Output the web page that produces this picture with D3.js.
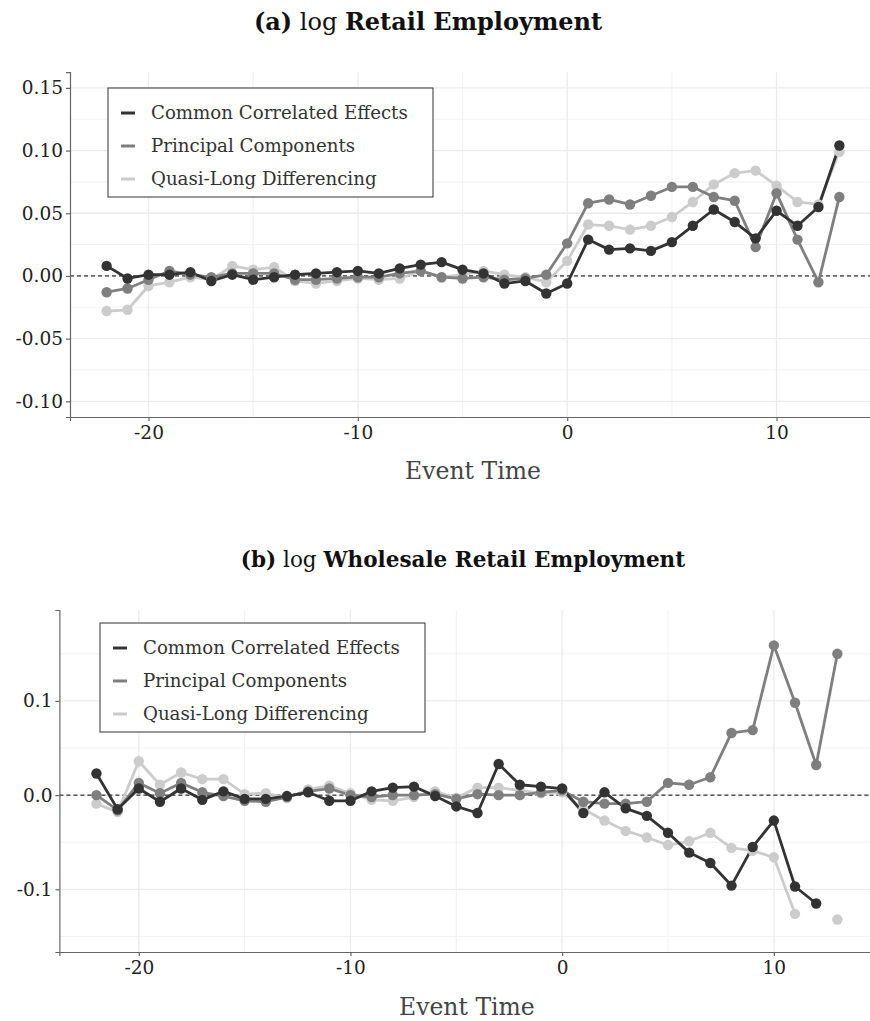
<!DOCTYPE html>
<html>
<head>
<meta charset="utf-8">
<script src="https://cdn.jsdelivr.net/npm/d3@7"></script>
<style>
  html, body { margin: 0; padding: 0; background: #ffffff; }
  svg { display: block; }
  text { font-family: "DejaVu Serif", serif; }
</style>
</head>
<body>
<svg id="chart" width="870" height="1021"></svg>
<script>
// Event-time grid shared by both panels
const eventTime = [-22,-21,-20,-19,-18,-17,-16,-15,-14,-13,-12,-11,-10,-9,-8,-7,-6,-5,-4,-3,-2,-1,0,1,2,3,4,5,6,7,8,9,10,11,12,13];

const seriesNames = ["Common Correlated Effects", "Principal Components", "Quasi-Long Differencing"];
const seriesColors = ["#333333", "#7f7f7f", "#cccccc"];

// (a) log Retail Employment
const retailCCE = [0.008,-0.002,0.001,0.001,0.003,-0.004,0.001,-0.003,-0.001,0.001,0.002,0.003,0.004,0.002,0.006,0.009,0.011,0.005,0.002,-0.006,-0.004,-0.014,-0.006,0.029,0.021,0.022,0.020,0.027,0.040,0.053,0.043,0.030,0.052,0.040,0.055,0.104];
const retailPC  = [-0.013,-0.010,-0.003,0.004,0.001,-0.001,0.002,0.002,0.002,-0.003,-0.003,-0.002,-0.001,-0.001,0.002,0.004,-0.001,-0.002,-0.001,-0.003,-0.002,0.001,0.026,0.058,0.061,0.057,0.064,0.071,0.071,0.063,0.060,0.023,0.066,0.029,-0.005,0.063];
const retailQLD = [-0.028,-0.027,-0.008,-0.005,-0.001,-0.003,0.008,0.005,0.007,-0.004,-0.006,-0.004,-0.002,-0.003,-0.002,0.004,-0.001,0.001,0.004,0.001,-0.001,-0.005,0.012,0.041,0.040,0.037,0.040,0.047,0.059,0.073,0.082,0.084,0.072,0.059,0.057,0.099];

// (b) log Wholesale Retail Employment (null = not estimated)
const wholesaleCCE = [0.023,-0.015,0.007,-0.007,0.007,-0.005,0.004,-0.004,-0.004,-0.001,0.003,-0.006,-0.006,0.004,0.008,0.009,-0.001,-0.012,-0.019,0.033,0.011,0.009,0.007,-0.019,0.003,-0.014,-0.022,-0.040,-0.061,-0.072,-0.096,-0.055,-0.027,-0.097,-0.115,null];
const wholesalePC  = [0.000,-0.016,0.013,0.002,0.013,0.003,-0.001,-0.006,-0.007,-0.002,0.004,0.007,0.000,-0.002,0.000,0.000,0.001,-0.004,0.001,0.000,0.000,0.003,0.005,-0.007,-0.009,-0.009,-0.007,0.013,0.011,0.019,0.066,0.069,0.159,0.098,0.032,0.150];
const wholesaleQLD = [-0.009,-0.018,0.036,0.011,0.024,0.017,0.017,0.001,0.002,-0.003,0.006,0.010,0.002,-0.005,-0.006,-0.002,0.004,-0.003,0.008,0.008,0.005,0.002,0.003,-0.015,-0.027,-0.038,-0.045,-0.053,-0.049,-0.040,-0.056,-0.059,-0.066,-0.126,null,-0.132];

// Axis breaks and labels
const xTicks = [-20, -10, 0, 10];
const xMinor = [-15, -5, 5];
const retailYTicks = [-0.10, -0.05, 0.00, 0.05, 0.10, 0.15];
const retailYMinor = [-0.075, -0.025, 0.025, 0.075, 0.125];
const wholesaleYTicks = [-0.1, 0.0, 0.1];
const wholesaleYMinor = [-0.15, -0.05, 0.05, 0.15];

const svg = d3.select("#chart");

function drawPanel(p) {
  const g = svg.append("g");
  const x = d3.scaleLinear().domain(p.xDomain).range(p.xRange);
  const y = d3.scaleLinear().domain(p.yDomain).range(p.yRange);
  const [x0, x1] = p.xRange;
  const [y0, y1] = p.yRange; // y0 bottom, y1 top

  // Title: bold panel letter and variable, regular "log"
  const title = g.append("text")
    .attr("x", p.titleX).attr("y", p.titleY)
    .attr("text-anchor", "middle")
    .attr("font-size", p.titleSize).attr("fill", "#111");
  title.append("tspan").attr("font-weight", "bold").text(p.titleParts[0]);
  title.append("tspan").text(" log ");
  title.append("tspan").attr("font-weight", "bold").text(p.titleParts[1]);

  // Grid lines
  const grid = g.append("g");
  grid.selectAll(".ymin").data(p.yMinor).join("line")
    .attr("x1", x0).attr("x2", x1).attr("y1", d => y(d)).attr("y2", d => y(d))
    .attr("stroke", "#f2f2f2").attr("stroke-width", 1.1);
  grid.selectAll(".xmin").data(xMinor).join("line")
    .attr("y1", y0).attr("y2", y1).attr("x1", d => x(d)).attr("x2", d => x(d))
    .attr("stroke", "#f2f2f2").attr("stroke-width", 1.1);
  grid.selectAll(".ymaj").data(p.yTicks).join("line")
    .attr("x1", x0).attr("x2", x1).attr("y1", d => y(d)).attr("y2", d => y(d))
    .attr("stroke", "#ebebeb").attr("stroke-width", 1.3);
  grid.selectAll(".xmaj").data(xTicks).join("line")
    .attr("y1", y0).attr("y2", y1).attr("x1", d => x(d)).attr("x2", d => x(d))
    .attr("stroke", "#ebebeb").attr("stroke-width", 1.3);

  // Zero reference
  g.append("line")
    .attr("x1", x0).attr("x2", x1).attr("y1", y(0)).attr("y2", y(0))
    .attr("stroke", "#000").attr("stroke-width", 1).attr("stroke-dasharray", "4,3");

  // Axes
  const xAxis = g.append("g").attr("transform", `translate(0,${y0})`)
    .call(d3.axisBottom(x).tickValues(xTicks).tickFormat(d3.format("d")).tickSizeOuter(0).tickSize(4).tickPadding(5));
  const yAxis = g.append("g").attr("transform", `translate(${x0},0)`)
    .call(d3.axisLeft(y).tickValues(p.yTicks).tickFormat(p.yFormat).tickSizeOuter(0).tickSize(4).tickPadding(3));
  [xAxis, yAxis].forEach(a => {
    a.select(".domain").attr("stroke", "#666").attr("stroke-width", 1.2);
    a.selectAll(".tick line").attr("stroke", "#666").attr("stroke-width", 1.2);
    a.selectAll(".tick text").attr("font-family", "DejaVu Serif, serif")
      .attr("font-size", 18.5).attr("fill", "#222");
  });
  xAxis.selectAll(".tick text").text(d => String(d).replace("−", "-"));
  yAxis.selectAll(".tick text").text(d => p.yFormat(d).replace("−", "-"));

  // Axis title
  g.append("text")
    .attr("x", (x0 + x1) / 2).attr("y", p.xTitleY)
    .attr("text-anchor", "middle").attr("font-size", 23.5).attr("fill", "#444")
    .text("Event Time");

  // Series: lines, then points; drawn so the darkest estimate sits on top
  const order = [2, 1, 0];
  const line = d3.line()
    .defined(d => d.v !== null)
    .x(d => x(d.t)).y(d => y(d.v));
  order.forEach(i => {
    const pts = eventTime.map((t, k) => ({ t, v: p.series[i][k] }));
    g.append("path").datum(pts)
      .attr("fill", "none").attr("stroke", seriesColors[i])
      .attr("stroke-width", 2.8).attr("stroke-linejoin", "round")
      .attr("d", line);
  });
  order.forEach(i => {
    const pts = eventTime.map((t, k) => ({ t, v: p.series[i][k] })).filter(d => d.v !== null);
    g.append("g").selectAll("circle").data(pts).join("circle")
      .attr("cx", d => x(d.t)).attr("cy", d => y(d.v)).attr("r", 5.2)
      .attr("fill", seriesColors[i]);
  });

  // Legend
  const lg = g.append("g").attr("transform", `translate(${p.legendX},${p.legendY})`);
  lg.append("rect").attr("width", 325).attr("height", 109)
    .attr("fill", "#fff").attr("stroke", "#333").attr("stroke-width", 1);
  seriesNames.forEach((name, i) => {
    const cy = 25 + i * 33;
    lg.append("line").attr("x1", 13).attr("x2", 27).attr("y1", cy).attr("y2", cy)
      .attr("stroke", seriesColors[i]).attr("stroke-width", 3);
    lg.append("text").attr("x", 43).attr("y", cy).attr("dy", "0.35em")
      .attr("font-size", 18.2).attr("fill", "#333").text(name);
  });
}

drawPanel({
  titleParts: ["(a)", "Retail Employment"], titleX: 428, titleY: 30, titleSize: 24,
  xDomain: [-23.75, 14.75], xRange: [70, 876],
  yDomain: [-0.1125, 0.1625], yRange: [417, 72.2],
  yTicks: retailYTicks, yMinor: retailYMinor, yFormat: d3.format(".2f"),
  xTitleY: 479,
  series: [retailCCE, retailPC, retailQLD],
  legendX: 108, legendY: 88
});

drawPanel({
  titleParts: ["(b)", "Wholesale Retail Employment"], titleX: 463, titleY: 567, titleSize: 21.5,
  xDomain: [-23.75, 14.75], xRange: [59.4, 874.4],
  yDomain: [-0.1665, 0.1965], yRange: [952, 610],
  yTicks: wholesaleYTicks, yMinor: wholesaleYMinor, yFormat: d3.format(".1f"),
  xTitleY: 1015,
  series: [wholesaleCCE, wholesalePC, wholesaleQLD],
  legendX: 100, legendY: 623
});
</script>
</body>
</html>
